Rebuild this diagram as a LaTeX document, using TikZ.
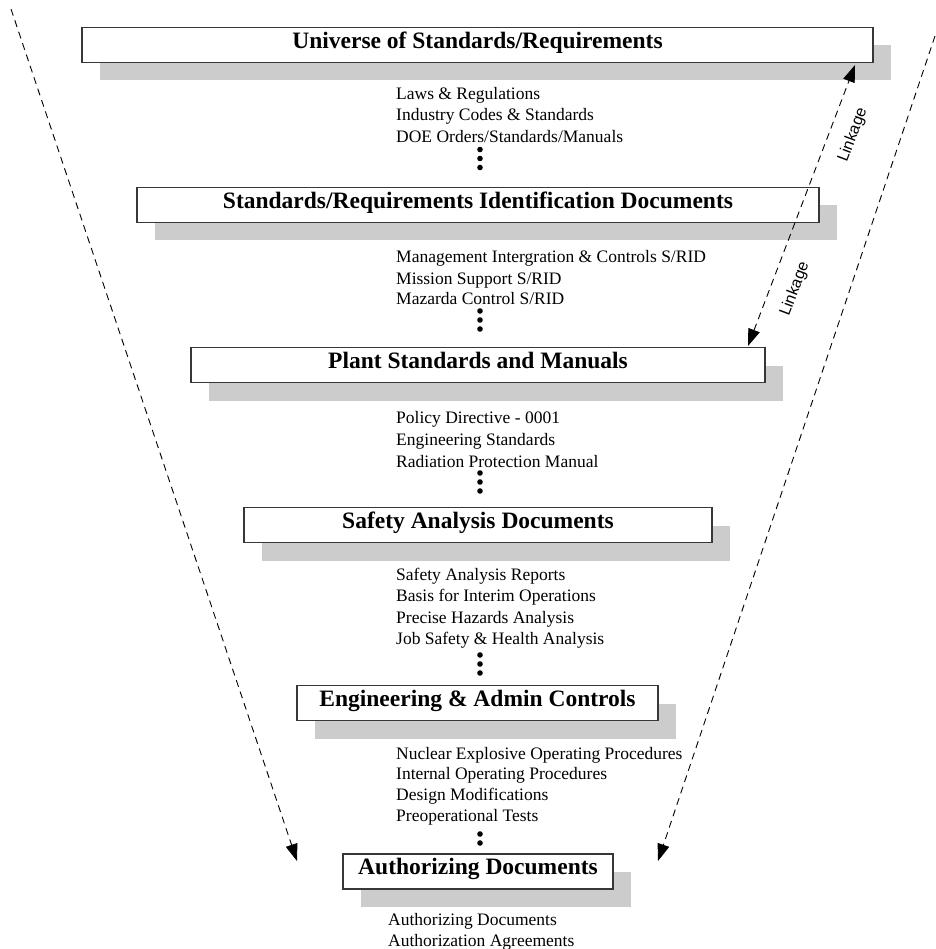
\documentclass[tikz,border=0pt]{standalone}
\usepackage{fontspec}
\setmainfont{Liberation Serif}
\newfontfamily\linkfont{Liberation Sans}
\usetikzlibrary{arrows.meta,shadows}
\definecolor{shadowgray}{RGB}{204,204,204}
\definecolor{edgegray}{RGB}{55,55,55}

\begin{document}
\begin{tikzpicture}[x=1pt,y=-1pt,
  tier/.style={draw=edgegray, line width=1.3pt, fill=white, inner sep=0pt,
    minimum height=35pt, text height=0.68em, text depth=0pt,
    font=\fontsize{23.5}{26}\selectfont\bfseries,
    general shadow={fill=shadowgray, shadow xshift=18pt, shadow yshift=-18pt}},
  itemtext/.style={anchor=base west, inner sep=0pt, font=\fontsize{17.5}{20}\selectfont},
  linklabel/.style={inner sep=0pt, rotate=69.2, font=\linkfont\fontsize{16}{18}\selectfont},
  guide/.style={dash pattern=on 7pt off 5pt, line width=0.9pt},
  tip/.tip={Triangle[length=17pt,width=12pt]},
  dot/.style={fill=black}]

\useasboundingbox (0,0) rectangle (935,949);

% hierarchy of document levels
\node[tier, minimum width=791pt] (univ)   at (477.5,45)  {Universe of Standards/Requirements};
\node[tier, minimum width=682pt] (srid)   at (478,205)   {Standards/Requirements Identification Documents};
\node[tier, minimum width=574pt] (plant)  at (478,365)   {Plant Standards and Manuals};
\node[tier, minimum width=468pt] (safety) at (478,525)   {Safety Analysis Documents};
\node[tier, minimum width=361pt] (engr)   at (477.5,703) {Engineering \& Admin Controls};
\node[tier, minimum width=270pt] (auth)   at (478,871.5) {Authorizing Documents};

% examples listed under each level
\node[itemtext] (u1) at (396,99.3)  {Laws \& Regulations};
\node[itemtext] (u2) at (396,121)   {Industry Codes \& Standards};
\node[itemtext] (u3) at (396,142.7) {DOE Orders/Standards/Manuals};

\node[itemtext] (s1) at (396,263) {Management Intergration \& Controls S/RID};
\node[itemtext] (s2) at (396,284) {Mission Support S/RID};
\node[itemtext] (s3) at (396,305) {Mazarda Control S/RID};

\node[itemtext] (p1) at (396,423) {Policy Directive - 0001};
\node[itemtext] (p2) at (396,445) {Engineering Standards};
\node[itemtext] (p3) at (396,467) {Radiation Protection Manual};

\node[itemtext] (a1) at (396,580) {Safety Analysis Reports};
\node[itemtext] (a2) at (396,601) {Basis for Interim Operations};
\node[itemtext] (a3) at (396,623) {Precise Hazards Analysis};
\node[itemtext] (a4) at (396,644) {Job Safety \& Health Analysis};

\node[itemtext] (e1) at (396,759)   {Nuclear Explosive Operating Procedures};
\node[itemtext] (e2) at (396,779.5) {Internal Operating Procedures};
\node[itemtext] (e3) at (396,800)   {Design Modifications};
\node[itemtext] (e4) at (396,821)   {Preoperational Tests};

\node[itemtext] (d1) at (388,925) {Authorizing Documents};
\node[itemtext] (d2) at (388,946) {Authorization Agreements};

% continuation dots
\foreach \y in {149.5,158.5,167.5, 311,320,329, 473,482,491, 655,664,673, 834,843}
  \fill[dot] (480,\y) circle (2.8pt);

% flow-down guides on both sides
\coordinate (lefttop)  at (11,9);
\coordinate (leftend)  at (297,861);
\coordinate (righttop) at (935,36);
\coordinate (rightend) at (658,861);
\draw[guide, -tip] (lefttop) -- (leftend);
\draw[guide, -tip] (righttop) -- (rightend);

% linkage between levels
\coordinate (linkhi) at (855,65);
\coordinate (linklo) at (748,346);
\draw[guide, tip-tip] (linklo) -- (linkhi);
\node[linklabel] (lk1) at (853,135) {Linkage};
\node[linklabel] (lk2) at (795,289) {Linkage};

\end{tikzpicture}
\end{document}
